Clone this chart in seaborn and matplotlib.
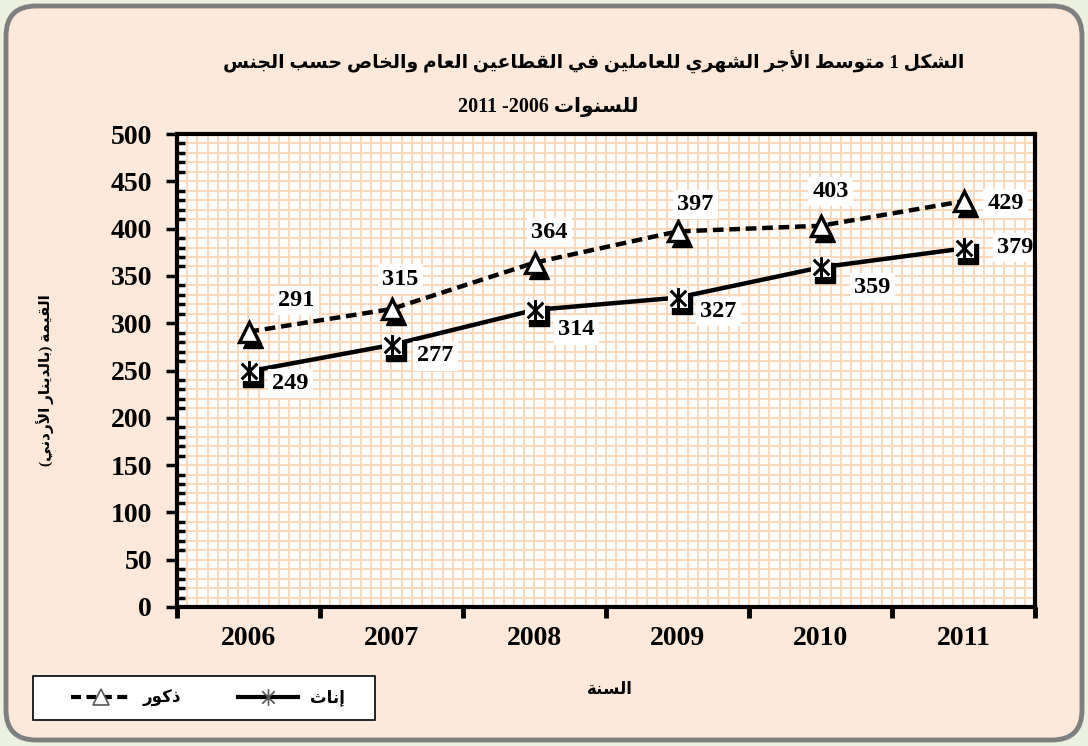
import re
import numpy as np
import pandas as pd
import matplotlib
matplotlib.use("Agg")
import matplotlib.pyplot as plt
import seaborn as sns
from matplotlib.lines import Line2D
from matplotlib.path import Path
from matplotlib.patches import FancyBboxPatch
from matplotlib import transforms

# data
years = ["2006", "2007", "2008", "2009", "2010", "2011"]
male = [291, 315, 364, 397, 403, 429]
female = [249, 277, 314, 327, 359, 379]

title_1 = "الشكل 1 متوسط الأجر الشهري للعاملين في القطاعين العام والخاص حسب الجنس"
title_2 = "للسنوات 2006- 2011"
y_title = "القيمة (بالدينار الأردني)"
x_title = "السنة"
male_name = "ذكور"
female_name = "إناث"

# label offsets in pixels (dx right, dy down)
male_off = [(48, -31), (9, -30), (15, -30), (18, -27), (10, -34), (42, 2)]
female_off = [(42, 12), (44, 11), (42, 20), (41, 14), (52, 20), (52, -1)]

# --- minimal arabic shaping (matplotlib has no text shaping) ---
# kind: 0 no joining, 1 joins previous only, 2 joins both sides
AR = {
    "ء": (0xFE80, 0), "آ": (0xFE81, 1), "أ": (0xFE83, 1), "ؤ": (0xFE85, 1),
    "إ": (0xFE87, 1), "ئ": (0xFE89, 2), "ا": (0xFE8D, 1), "ب": (0xFE8F, 2),
    "ة": (0xFE93, 1), "ت": (0xFE95, 2), "ث": (0xFE99, 2), "ج": (0xFE9D, 2),
    "ح": (0xFEA1, 2), "خ": (0xFEA5, 2), "د": (0xFEA9, 1), "ذ": (0xFEAB, 1),
    "ر": (0xFEAD, 1), "ز": (0xFEAF, 1), "س": (0xFEB1, 2), "ش": (0xFEB5, 2),
    "ص": (0xFEB9, 2), "ض": (0xFEBD, 2), "ط": (0xFEC1, 2), "ظ": (0xFEC5, 2),
    "ع": (0xFEC9, 2), "غ": (0xFECD, 2), "ف": (0xFED1, 2), "ق": (0xFED5, 2),
    "ك": (0xFED9, 2), "ل": (0xFEDD, 2), "م": (0xFEE1, 2), "ن": (0xFEE5, 2),
    "ه": (0xFEE9, 2), "و": (0xFEED, 1), "ى": (0xFEEF, 1), "ي": (0xFEF1, 2),
}
LAM_ALEF = {"آ": 0xFEF5, "أ": 0xFEF7, "إ": 0xFEF9, "ا": 0xFEFB}


def shape(text):
    out = []
    prev_joins = False
    i = 0
    while i < len(text):
        c = text[i]
        nxt = text[i + 1] if i + 1 < len(text) else None
        if c not in AR:
            out.append(c)
            prev_joins = False
            i += 1
            continue
        if c == "ل" and nxt in LAM_ALEF:
            out.append(chr(LAM_ALEF[nxt] + (1 if prev_joins else 0)))
            prev_joins = False
            i += 2
            continue
        base, kind = AR[c]
        joins_next = kind == 2 and nxt in AR and AR[nxt][1] > 0
        joins_prev = prev_joins and kind > 0
        if joins_prev and joins_next:
            form = 3
        elif joins_prev:
            form = 1
        elif joins_next:
            form = 2
        else:
            form = 0
        out.append(chr(base + form))
        prev_joins = joins_next
        i += 1
    return "".join(out)


def rtl(text):
    # shape, reverse for display, keep numbers left-to-right, mirror brackets
    s = shape(text)[::-1]
    s = re.sub(r"\d+", lambda m: m.group(0)[::-1], s)
    return s.translate(str.maketrans("()", ")("))


plt.rcParams["font.family"] = ["Liberation Serif", "DejaVu Sans"]
plt.rcParams["font.weight"] = "bold"

W, H = 1088, 746
fig = plt.figure(figsize=(W / 100, H / 100), dpi=100, facecolor="#ebf1de")
frame = FancyBboxPatch((6, 6), W - 12, H - 12,
                       boxstyle="round,pad=0,rounding_size=30",
                       transform=transforms.IdentityTransform(),
                       fc="#fde9d9", ec="#7f7f7f", lw=3.5, zorder=-10)
fig.patches.append(frame)

ax = fig.add_axes([177 / W, 1 - 607 / H, 858 / W, 473 / H])
ax.set_facecolor("white")

pos = np.arange(len(years))
df = pd.DataFrame({"pos": pos, "male": male, "female": female})

grid_c = "#fcd5b4"
ax.vlines(np.arange(-0.5 + 1 / 14, 5.5, 1 / 14), 0, 500, color=grid_c, lw=1.3, zorder=0.5)

# lines
dash = (0, (2.4, 1.3))
sns.lineplot(data=df, x="pos", y="male", ax=ax, color="black", lw=3.2,
             linestyle=dash, zorder=3)
sns.lineplot(data=df, x="pos", y="female", ax=ax, color="black", lw=3.2,
             zorder=3)

# marker shadows
shadow = transforms.offset_copy(ax.transData, fig=fig, x=4, y=-6, units="dots")
sns.lineplot(data=df, x="pos", y="male", ax=ax, linestyle="", marker="^", ms=14,
             mfc="black", mec="black", mew=1, transform=shadow, zorder=4)
sns.lineplot(data=df, x="pos", y="female", ax=ax, linestyle="", marker="s", ms=14,
             mfc="black", mec="black", mew=1, transform=shadow, zorder=4)

star = Path([(0, -1), (0, 1), (-0.75, -0.75), (0.75, 0.75), (-0.75, 0.75), (0.75, -0.75)],
            [Path.MOVETO, Path.LINETO] * 3)

sns.lineplot(data=df, x="pos", y="male", ax=ax, linestyle="", marker="^", ms=14,
             mfc="white", mec="black", mew=2.4, zorder=5)
sns.lineplot(data=df, x="pos", y="female", ax=ax, linestyle="", marker="s", ms=14,
             mfc="white", mec="white", mew=0, zorder=5)
sns.lineplot(data=df, x="pos", y="female", ax=ax, linestyle="", marker=star, ms=15,
             mfc="none", mec="black", mew=2.2, zorder=6)

# value labels
lab_kw = dict(textcoords="offset points", ha="center", va="center", fontsize=17.5,
              fontweight="bold", family="Liberation Serif", zorder=7,
              bbox=dict(fc="white", ec="none", pad=3))
for i, v in enumerate(male):
    dx, dy = male_off[i]
    ax.annotate(str(v), (pos[i], v), xytext=(dx * 0.72, -dy * 0.72), **lab_kw)
for i, v in enumerate(female):
    dx, dy = female_off[i]
    ax.annotate(str(v), (pos[i], v), xytext=(dx * 0.72, -dy * 0.72), **lab_kw)

# axes
ax.set_xlim(-0.5, 5.5)
ax.set_ylim(0, 500)
ax.set_yticks(np.arange(0, 501, 50))
ax.set_yticks(np.arange(0, 501, 10), minor=True)
ax.grid(axis="y", which="both", color=grid_c, lw=1.3, zorder=0)
ax.grid(axis="x", visible=False)
ax.set_axisbelow(True)
ax.set_xticks(np.arange(-0.5, 5.6, 1))
ax.set_xticklabels([])
ax.set_xticks(pos, minor=True)
ax.set_xticklabels(years, minor=True)
ax.tick_params(axis="x", which="major", direction="out", length=8, width=3.5)
ax.tick_params(axis="x", which="minor", length=0, pad=14, labelsize=20)
ax.tick_params(axis="y", which="major", direction="out", length=8, width=2.5,
               pad=10, labelsize=20)
ax.tick_params(axis="y", which="minor", direction="in", length=6, width=2.5)
for lab in ax.get_xticklabels(minor=True) + ax.get_yticklabels():
    lab.set_fontweight("bold")
ax.set_xlabel("")
ax.set_ylabel("")
for s in ax.spines.values():
    s.set_linewidth(3)
    s.set_color("black")
    s.set_zorder(8)

# titles
fig.text(594 / W, 1 - 62 / H, rtl(title_1), ha="center", va="center",
         fontsize=13.5, fontweight="bold")
fig.text(548 / W, 1 - 107 / H, rtl(title_2), ha="center", va="center",
         fontsize=14.5, fontweight="bold")
fig.text(45 / W, 1 - 380 / H, rtl(y_title), ha="center", va="center",
         rotation=90, fontsize=11, fontweight="bold")
fig.text(610 / W, 1 - 690 / H, rtl(x_title), ha="center", va="center",
         fontsize=12, fontweight="bold")

# legend
handles = [
    Line2D([], [], color="black", lw=3, linestyle=dash, marker="^", ms=11,
           mfc="white", mec="#555555", mew=1.2),
    Line2D([], [], color="black", lw=3, marker=star, ms=12, mfc="none",
           mec="#555555", mew=1.2),
]
leg = fig.legend(handles, [rtl(male_name), rtl(female_name)], ncol=2, loc="center",
                 bbox_to_anchor=(208 / W, 1 - 698 / H),
                 bbox_transform=fig.transFigure,
                 frameon=False, handlelength=3.6, handletextpad=0.7,
                 fontsize=12, columnspacing=3.4, borderaxespad=0)
box = plt.Rectangle((33, H - 720), 342, 44, transform=transforms.IdentityTransform(),
                    fc="white", ec="black", lw=1.2, zorder=-5)
fig.patches.append(box)

fig.savefig("out.png", dpi=100, facecolor=fig.get_facecolor())
